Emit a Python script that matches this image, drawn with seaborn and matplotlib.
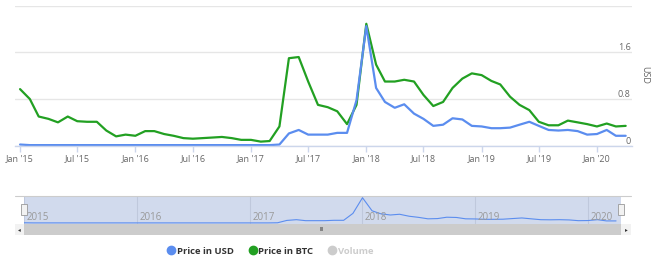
import numpy as np
import pandas as pd
import matplotlib
matplotlib.use("Agg")
import matplotlib.pyplot as plt
import matplotlib.dates as mdates
from matplotlib.lines import Line2D
from matplotlib.patches import Rectangle
import seaborn as sns

# ---------------- data (monthly, Jan 2015 .. Apr 2020) ----------------
months = pd.date_range("2015-01-01", "2020-04-01", freq="MS")
price_usd = [0.02, 0.01, 0.01, 0.01, 0.01, 0.01, 0.01, 0.01, 0.01, 0.01, 0.01, 0.01,
             0.01, 0.01, 0.01, 0.01, 0.01, 0.01, 0.01, 0.01, 0.01, 0.01, 0.01, 0.01,
             0.01, 0.01, 0.01, 0.02, 0.21, 0.27, 0.19, 0.19, 0.19, 0.22, 0.22, 0.78,
             2.05, 0.99, 0.75, 0.65, 0.71, 0.55, 0.46, 0.34, 0.36, 0.47, 0.45, 0.34,
             0.33, 0.30, 0.30, 0.31, 0.36, 0.41, 0.34, 0.27, 0.26, 0.27, 0.25, 0.19,
             0.20, 0.27, 0.17, 0.17]
price_btc = [0.97, 0.80, 0.50, 0.46, 0.40, 0.50, 0.42, 0.41, 0.41, 0.26, 0.16, 0.19,
             0.17, 0.25, 0.25, 0.20, 0.17, 0.13, 0.12, 0.13, 0.14, 0.15, 0.13, 0.10,
             0.10, 0.07, 0.08, 0.33, 1.50, 1.52, 1.10, 0.70, 0.66, 0.59, 0.37, 0.70,
             2.09, 1.39, 1.10, 1.10, 1.13, 1.10, 0.87, 0.68, 0.75, 0.99, 1.15, 1.24,
             1.21, 1.11, 1.05, 0.84, 0.70, 0.61, 0.41, 0.35, 0.35, 0.43, 0.40, 0.37,
             0.33, 0.38, 0.33, 0.34]
y_ticks = [0, 0.8, 1.6, 2.4]
y_tick_labels = ["0", "0.8", "1.6", ""]
x_tick_dates = pd.date_range("2015-01-01", "2020-01-01", freq="6MS")
x_tick_labels = [d.strftime("%b '%y") for d in x_tick_dates]
nav_years = pd.date_range("2015-01-01", "2020-01-01", freq="YS")
nav_year_labels = [str(d.year) for d in nav_years]
legend_labels = ["Price in USD", "Price in BTC", "Volume"]

df = pd.DataFrame({"date": months, "usd": price_usd, "btc": price_btc})

# ---------------- style ----------------
sns.set_style("white")
plt.rcParams["font.family"] = ["Open Sans", "DejaVu Sans"]

BLUE = "#5b8def"
GREEN = "#22a022"
GRID = "#e6e6e6"
AXLINE = "#ccd6eb"

W, H = 651, 261
fig = plt.figure(figsize=(W / 100, H / 100), dpi=100)

def rect(x0, y0, x1, y1):
    return [x0 / W, 1 - y1 / H, (x1 - x0) / W, (y1 - y0) / H]

# ---------------- main chart ----------------
ax = fig.add_axes(rect(15, 5.7, 632, 145.7))
sns.lineplot(data=df, x="date", y="btc", ax=ax, color=GREEN, linewidth=1.6)
sns.lineplot(data=df, x="date", y="usd", ax=ax, color=BLUE, linewidth=1.6)
ax.set_ylim(0, 2.4)
ax.set_xlim(pd.Timestamp("2014-12-16"), pd.Timestamp("2020-04-21"))
ax.set_xlabel("")
ax.set_ylabel("")
for s in ["top", "left", "right"]:
    ax.spines[s].set_visible(False)
ax.spines["bottom"].set_color(AXLINE)
ax.spines["bottom"].set_linewidth(1)
ax.set_yticks(y_ticks)
ax.yaxis.tick_right()
ax.set_yticklabels(y_tick_labels)
ax.tick_params(axis="y", length=0, pad=-1, labelsize=6.5, labelcolor="#666666")
for lab in ax.get_yticklabels():
    lab.set_horizontalalignment("right")
    lab.set_verticalalignment("bottom")
ax.grid(axis="y", color=GRID, linewidth=1)
ax.set_axisbelow(True)
ax.set_xticks(x_tick_dates)
ax.set_xticklabels(x_tick_labels)
ax.tick_params(axis="x", length=4, color=AXLINE, width=1, pad=2, labelsize=6.5,
               labelcolor="#666666", bottom=True)
fig.text(645 / W, 1 - 75 / H, "USD", rotation=270, ha="center", va="center",
         fontsize=6.5, color="#666666")

# ---------------- navigator ----------------
fig.add_artist(Line2D([15 / W, 631 / W], [1 - 196 / H, 1 - 196 / H],
                      color="#cccccc", linewidth=0.8))
nav = fig.add_axes(rect(24, 196.5, 621, 224))
nav.set_facecolor("#d1daed")
sns.lineplot(data=df, x="date", y="usd", ax=nav, color=BLUE, linewidth=0.8)
nav.set_xlim(pd.Timestamp("2015-01-01"), pd.Timestamp("2020-04-17"))
nav.set_ylim(-0.08, 2.15)
nav.set_xlabel("")
nav.set_ylabel("")
nav.set_yticks([])
nav.set_xticks(nav_years)
nav.set_xticklabels([])
nav.tick_params(axis="x", length=0)
nav.grid(axis="x", color="#bfc8dc", linewidth=0.8)
for s in nav.spines.values():
    s.set_visible(False)
for d, lab in zip(nav_years, nav_year_labels):
    nav.text(d + pd.Timedelta(days=8), 0.03, lab, transform=nav.get_xaxis_transform(),
             ha="left", va="bottom", fontsize=7, color="#999999")

# handles
for hx in (24, 621):
    fig.add_artist(Rectangle(((hx - 3) / W, 1 - 215 / H), 6 / W, 11 / H,
                             facecolor="#f2f2f2", edgecolor="#999999", linewidth=0.6))
# scrollbar
fig.add_artist(Rectangle((15 / W, 1 - 235 / H), 616 / W, 11 / H,
                         facecolor="#f2f2f2", edgecolor="none"))
fig.add_artist(Rectangle((24 / W, 1 - 235 / H), 597 / W, 11 / H,
                         facecolor="#cccccc", edgecolor="none"))
fig.text(19.5 / W, 1 - 229.5 / H, "◂", ha="center", va="center", fontsize=4, color="#333333")
fig.text(626 / W, 1 - 229.5 / H, "▸", ha="center", va="center", fontsize=4, color="#333333")
fig.text(322 / W, 1 - 229.5 / H, "III", ha="center", va="center", fontsize=4, color="#333333")

# ---------------- legend ----------------
handles = [Line2D([], [], marker="o", linestyle="none", markersize=6, color=BLUE),
           Line2D([], [], marker="o", linestyle="none", markersize=6, color=GREEN),
           Line2D([], [], marker="o", linestyle="none", markersize=6, color="#cccccc")]
leg = fig.legend(handles, legend_labels, loc="center", ncol=3,
                 bbox_to_anchor=(270 / W, 1 - 251 / H), frameon=False,
                 fontsize=6.8, handletextpad=0.1, columnspacing=1.5,
                 handlelength=1.0, borderpad=0)
for t, c in zip(leg.get_texts(), ["#333333", "#333333", "#cccccc"]):
    t.set_color(c)
    t.set_fontweight("bold")

fig.savefig("out.png", dpi=100)
